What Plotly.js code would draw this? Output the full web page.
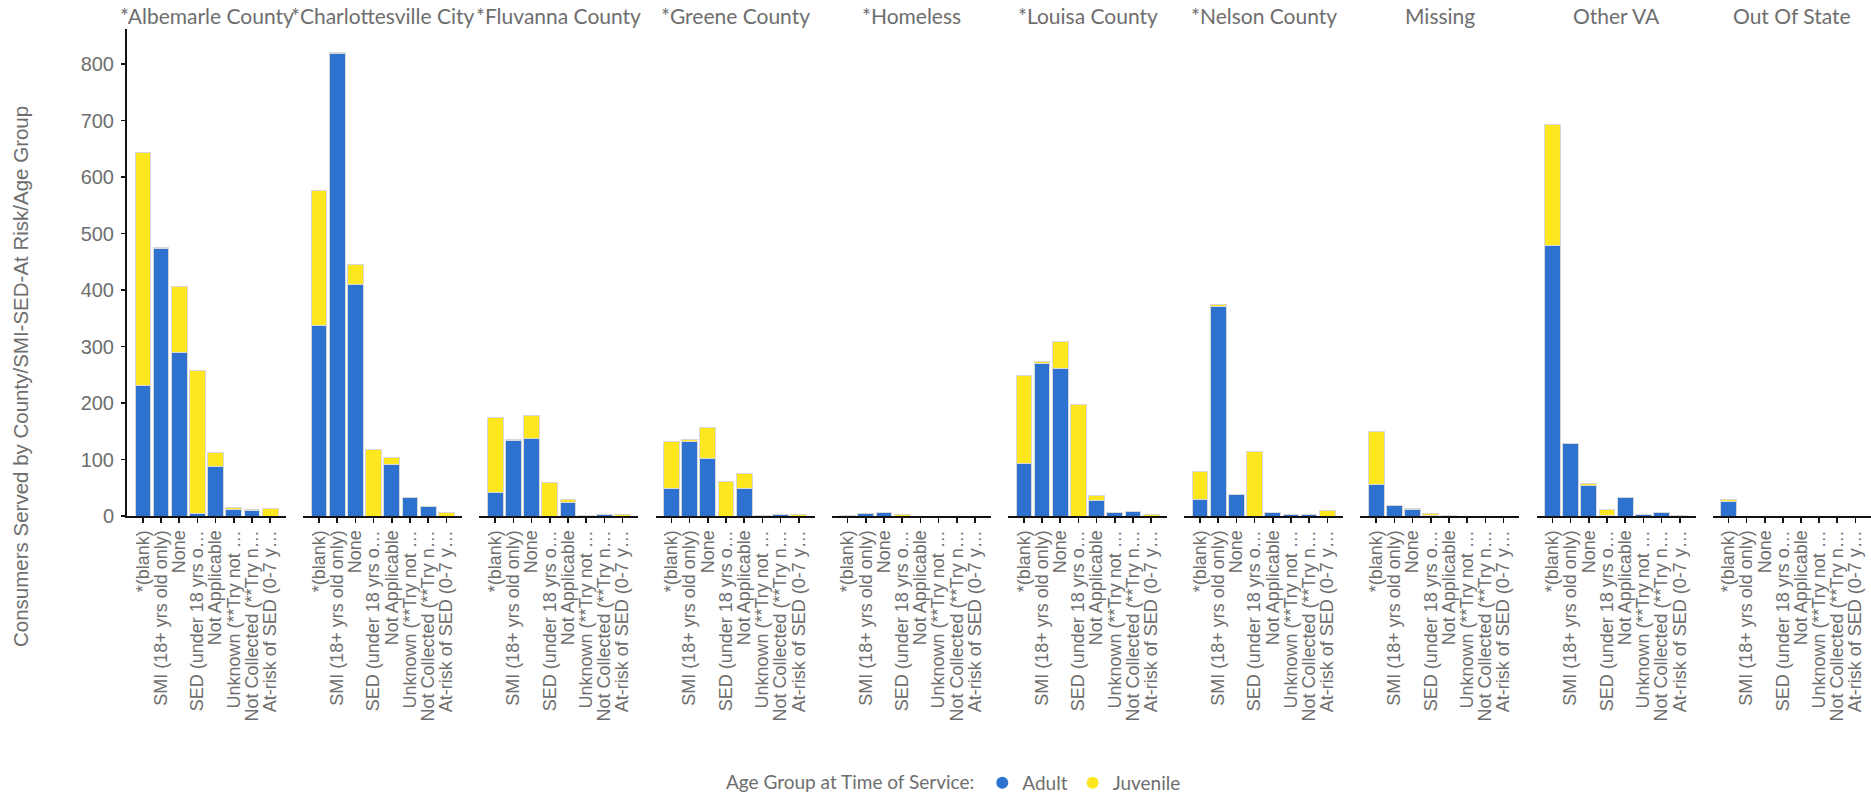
<!DOCTYPE html>
<html>
<head>
<meta charset="utf-8">
<script src="https://cdn.plot.ly/plotly-3.0.1.min.js"></script>
<style>
  html, body { margin: 0; padding: 0; background: #fff; }
  #chart { width: 1871px; height: 793px; }
</style>
</head>
<body>
<div id="chart"></div>
<script>
const counties = ["*Albemarle County", "*Charlottesville City", "*Fluvanna County", "*Greene County", "*Homeless", "*Louisa County", "*Nelson County", "Missing", "Other VA", "Out Of State"];

const categories = ["*(blank)", "SMI (18+ yrs old only)", "None", "SED (under 18 yrs o…", "Not Applicable", "Unknown (**Try not …", "Not Collected (**Try n…", "At-risk of SED (0-7 y…"];

// Adult counts, one row per county, in category order
const adultCounts = [
  [231, 473, 290, 5, 87, 12, 10, 0],
  [338, 819, 410, 0, 91, 32, 16, 0],
  [42, 133, 138, 0, 24, 1, 3, 0],
  [49, 132, 101, 0, 48, 1, 2, 0],
  [1, 4, 6, 0, 0, 0, 0, 0],
  [93, 270, 261, 0, 27, 6, 8, 0],
  [30, 371, 38, 0, 7, 3, 3, 0],
  [56, 18, 11, 1, 1, 0, 0, 0],
  [478, 128, 54, 1, 32, 2, 6, 0],
  [26, 0, 0, 0, 0, 0, 0, 0]
];

// Juvenile counts, one row per county, in category order
const juvenileCounts = [
  [413, 2, 116, 252, 26, 3, 2, 13],
  [238, 2, 36, 117, 12, 0, 0, 7],
  [133, 2, 40, 59, 5, 0, 0, 2],
  [82, 3, 56, 61, 27, 0, 0, 3],
  [0, 0, 0, 2, 0, 0, 0, 0],
  [156, 4, 47, 198, 9, 0, 0, 3],
  [49, 4, 0, 114, 0, 0, 0, 9],
  [93, 0, 2, 3, 0, 0, 0, 0],
  [215, 0, 3, 10, 0, 1, 0, 1],
  [3, 0, 0, 0, 0, 0, 0, 0]
];

const seriesNames = ["Adult", "Juvenile"];
const seriesColors = ["#2d72cf", "#ffe71f"];

const W = 1871, H = 793;
const mL = 127, mR = 0, mT = 29, mB = 277;
const plotW = W - mL - mR, plotH = H - mT - mB;
const pitchPx = 176.2, panelPx = 159;

const textGrey = "#6e6e6e";
const traces = [];
const layout = {
  width: W, height: H,
  margin: {l: mL, r: mR, t: mT, b: mB, pad: 0, autoexpand: false},
  paper_bgcolor: "#ffffff",
  plot_bgcolor: "#ffffff",
  barmode: "stack",
  bargap: 0.14,
  showlegend: true,
  font: {family: "Lato, 'Liberation Sans', sans-serif", color: textGrey},
  yaxis: {
    range: [0, 862],
    domain: [0, 1],
    dtick: 100,
    showgrid: false,
    zeroline: false,
    showline: true,
    linecolor: "#111",
    linewidth: 2,
    ticks: "outside",
    ticklen: 4,
    tickwidth: 1.5,
    tickcolor: "#111",
    ticklabelstandoff: 3,
    tickfont: {family: "'Liberation Sans', Arial, sans-serif", size: 20, color: textGrey},
    anchor: "x",
    fixedrange: true
  },
  legend: {
    orientation: "h",
    x: (955 - mL) / plotW,
    xanchor: "center",
    y: (mT + plotH - 783) / plotH,
    yanchor: "middle",
    title: {text: "Age Group at Time of Service:", side: "left", font: {family: "Lato, sans-serif", size: 19, color: textGrey}},
    font: {family: "Lato, sans-serif", size: 19, color: textGrey},
    itemsizing: "constant",
    itemwidth: 30,
    traceorder: "normal"
  },
  annotations: []
};

counties.forEach((county, i) => {
  const axName = i === 0 ? "xaxis" : "xaxis" + (i + 1);
  const axRef = i === 0 ? "x" : "x" + (i + 1);
  const d0 = (i * pitchPx) / plotW;
  const d1 = Math.min(1, (i * pitchPx + panelPx) / plotW);
  layout[axName] = {
    domain: [d0, d1],
    anchor: "y",
    type: "category",
    range: [-0.87, categories.length - 1 + 0.87],
    tickmode: "array",
    tickvals: categories,
    ticktext: categories,
    showgrid: false,
    zeroline: false,
    showline: true,
    linecolor: "#111",
    linewidth: 2,
    ticks: "outside",
    ticklen: 5,
    tickwidth: 1.5,
    tickcolor: "#111",
    tickangle: -90,
    tickfont: {family: "'Liberation Sans', Arial, sans-serif", size: 18, color: textGrey},
    fixedrange: true
  };
  layout.annotations.push({
    text: county,
    xref: "paper", yref: "paper",
    x: (d0 + d1) / 2, y: (plotH + mT - 15.5) / plotH,
    xanchor: "center", yanchor: "middle",
    showarrow: false,
    font: {family: "Lato, sans-serif", size: 21, color: textGrey}
  });
  [adultCounts[i], juvenileCounts[i]].forEach((vals, s) => {
    traces.push({
      type: "bar",
      name: seriesNames[s],
      x: categories,
      y: vals,
      xaxis: axRef,
      yaxis: "y",
      marker: {color: seriesColors[s], line: {color: "#d8d8d8", width: 1}},
      showlegend: false,
      hovertemplate: county + "<br>%{x}<br>" + seriesNames[s] + ": %{y}<extra></extra>"
    });
  });
});

// legend entries drawn as circles
seriesNames.forEach((name, s) => {
  traces.push({
    type: "scatter",
    mode: "markers",
    name: name,
    x: [null], y: [null],
    xaxis: "x", yaxis: "y",
    marker: {symbol: "circle", size: 16, color: seriesColors[s]},
    showlegend: true,
    hoverinfo: "skip"
  });
});

layout.annotations.push({
  text: "Consumers Served by County/SMI-SED-At Risk/Age Group",
  xref: "paper", yref: "paper",
  x: (21 - mL) / plotW, y: (mT + plotH - 377) / plotH,
  xanchor: "center", yanchor: "middle",
  textangle: -90,
  showarrow: false,
  font: {family: "'Liberation Sans', Arial, sans-serif", size: 20.5, color: textGrey}
});

Plotly.newPlot("chart", traces, layout, {displayModeBar: false, staticPlot: true});
</script>
</body>
</html>
